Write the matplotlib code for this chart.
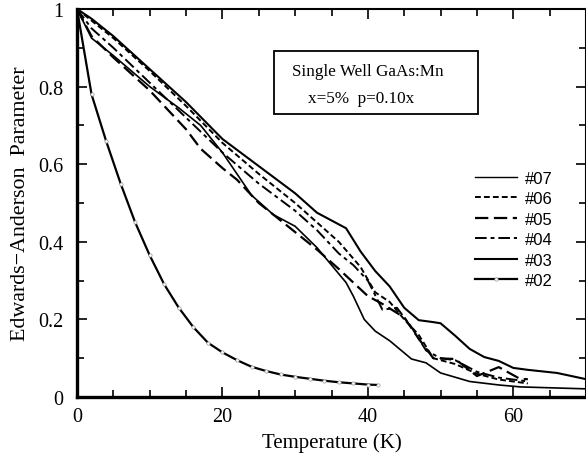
import matplotlib
matplotlib.use("Agg")
import matplotlib.pyplot as plt
from matplotlib.ticker import MultipleLocator
from matplotlib.lines import Line2D
from matplotlib.patches import Rectangle

# ---------------- data ----------------
t02 = [0, 2, 4, 6, 8, 10, 12, 14, 16, 18, 20, 22, 24, 26, 28, 30, 32, 34, 36, 38, 40, 41.4]
y02 = [1.0, 0.78, 0.66, 0.55, 0.45, 0.365, 0.29, 0.23, 0.18, 0.14, 0.115, 0.095, 0.078,
       0.067, 0.058, 0.052, 0.047, 0.042, 0.038, 0.035, 0.032, 0.031]

t03 = [0, 2, 5, 10, 15, 20, 25, 30, 33, 35, 37, 39, 41, 43, 45, 47, 49, 50, 52, 54, 56, 58, 60, 62, 66, 70]
y03 = [1.0, 0.975, 0.93, 0.845, 0.76, 0.665, 0.595, 0.525, 0.475, 0.455, 0.435, 0.375, 0.325,
       0.285, 0.23, 0.198, 0.193, 0.19, 0.158, 0.124, 0.103, 0.093, 0.075, 0.07, 0.062, 0.046]

t07 = [0, 2, 5, 10, 14, 17, 20, 24, 27, 30, 33, 35, 37, 38, 39.5, 41, 43, 46, 48, 50, 54, 58, 61, 70]
y07 = [1.0, 0.925, 0.88, 0.80, 0.745, 0.70, 0.63, 0.52, 0.47, 0.44, 0.385, 0.34, 0.295, 0.26,
       0.20, 0.17, 0.145, 0.098, 0.088, 0.062, 0.04, 0.031, 0.026, 0.021]

t05 = [0, 2, 5, 10, 15, 17, 20, 22, 25, 29, 33, 36, 40, 42, 45, 47, 49, 52, 55, 58, 61, 62]
y05 = [1.0, 0.93, 0.875, 0.79, 0.69, 0.64, 0.59, 0.56, 0.50, 0.44, 0.38, 0.33, 0.26, 0.24,
       0.205, 0.15, 0.10, 0.098, 0.054, 0.077, 0.046, 0.046]

t06 = [0, 2, 5, 10, 15, 20, 25, 30, 33, 36, 39, 41, 43, 45, 47, 49, 52, 55, 58, 62]
y06 = [1.0, 0.97, 0.925, 0.84, 0.75, 0.655, 0.575, 0.50, 0.45, 0.40, 0.335, 0.27, 0.245,
       0.20, 0.16, 0.10, 0.085, 0.06, 0.045, 0.035]

t04 = [0, 2, 5, 10, 15, 20, 25, 30, 33, 36, 38, 40, 42, 44, 46, 48, 50, 52, 55, 58, 62]
y04 = [1.0, 0.95, 0.90, 0.81, 0.72, 0.63, 0.55, 0.48, 0.43, 0.37, 0.34, 0.30, 0.225, 0.23,
       0.18, 0.12, 0.10, 0.095, 0.065, 0.05, 0.04]

labels = ["#07", "#06", "#05", "#04", "#03", "#02"]

# ---------------- figure ----------------
fig = plt.figure(figsize=(5.86, 4.60), dpi=100)
ax = fig.add_axes([77/586, 1-398/460, 1-77/586, (398-10)/460])

serif = "Liberation Serif"

ax.plot(t07, y07, color="black", lw=1.2)
ax.plot(t06, y06, color="black", lw=1.4, dashes=(3, 1.6))
ax.plot(t05, y05, color="black", lw=1.6, dashes=(6, 2.5))
ax.plot(t04, y04, color="black", lw=1.4, dashes=(6, 2, 2, 2))
ax.plot(t03, y03, color="black", lw=1.5)
ax.plot(t02, y02, color="black", lw=1.6, marker="o", ms=2.4, mfc="white", mec="#999999", mew=0.5)

ax.set_xlim(0, 70)
ax.set_ylim(0, 1)
ax.xaxis.set_minor_locator(MultipleLocator(5))
ax.yaxis.set_minor_locator(MultipleLocator(0.1))
ax.set_xticks([0, 20, 40, 60])
ax.set_xticklabels(["0", "20", "40", "60"])
ax.set_yticks([0, 0.2, 0.4, 0.6, 0.8, 1.0])
ax.set_yticklabels(["0", "0.2", "0.4", "0.6", "0.8", "1"])
ax.tick_params(which="both", direction="in", top=True, right=True, width=1.2)
ax.tick_params(which="major", length=7, labelsize=14.5)
ax.tick_params(axis="x", which="major", pad=7)
ax.tick_params(axis="y", which="major", pad=10)
ax.tick_params(which="minor", length=5)
for lab in ax.get_xticklabels() + ax.get_yticklabels():
    lab.set_fontfamily(serif)

ax.spines["left"].set_linewidth(2.4)
ax.spines["bottom"].set_linewidth(2.4)
ax.spines["top"].set_linewidth(1.5)
ax.spines["right"].set_linewidth(1.5)

ax.set_xlabel("Temperature (K)", fontsize=15, family=serif, labelpad=5)
ax.set_ylabel("Edwards\u2212Anderson  Parameter", fontsize=15.8, family=serif, labelpad=6)

# annotation box
ax.add_patch(Rectangle((0.387, 0.729), 0.401, 0.163, transform=ax.transAxes,
                       fill=False, ec="black", lw=1.3))
ax.text(0.571, 0.840, "Single Well GaAs:Mn", transform=ax.transAxes,
        fontsize=12.3, family=serif, ha="center", va="center")
ax.text(0.558, 0.771, "x=5%  p=0.10x", transform=ax.transAxes,
        fontsize=12.3, family=serif, ha="center", va="center")

# legend
handles = [
    Line2D([], [], color="black", lw=1.0),
    Line2D([], [], color="black", lw=1.4, dashes=(3, 1.6)),
    Line2D([], [], color="black", lw=1.6, dashes=(6, 2.5)),
    Line2D([], [], color="black", lw=1.4, dashes=(6, 2, 2, 2)),
    Line2D([], [], color="black", lw=1.5),
    Line2D([], [], color="black", lw=1.6, marker="o", ms=2.4, mfc="white", mec="#999999",
           mew=0.5, markevery=[0, -1]),
]
leg = ax.legend(handles, labels, loc="upper left", bbox_to_anchor=(0.766, 0.605),
                frameon=False, prop={"family": "Liberation Sans", "size": 12},
                handlelength=2.5, handletextpad=0.5, labelspacing=0.33, borderpad=0)

fig.savefig("out.png", dpi=100)
